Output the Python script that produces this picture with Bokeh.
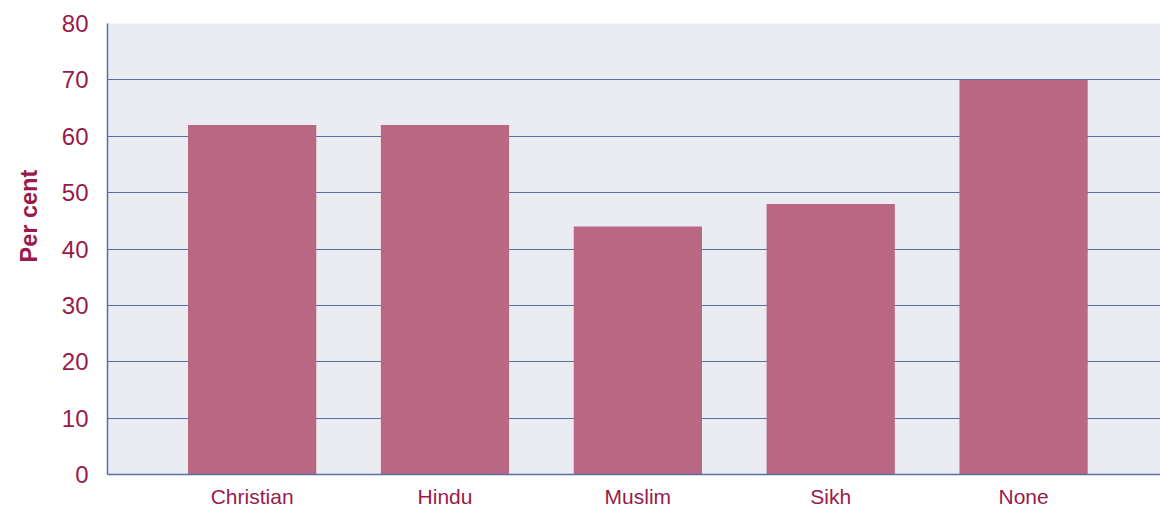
from bokeh.plotting import figure
from bokeh.models import Range1d, FixedTicker, Title
from bokeh.embed import file_html
from bokeh.resources import INLINE

categories = ["Christian", "Hindu", "Muslim", "Sikh", "None"]
values = [62, 62, 44, 48, 70]
y_ticks = [0, 10, 20, 30, 40, 50, 60, 70, 80]

xs = list(range(1, len(categories) + 1))

TEXT = "#9A1A4B"
GRID = "#5A6EA6"
FONT = "Liberation Sans"

p = figure(frame_width=1053, frame_height=451, output_backend="svg", toolbar_location=None,
           x_range=Range1d(0.25, 5.71), y_range=Range1d(0, 80),
           min_border_left=107, min_border_right=0, min_border_top=23, min_border_bottom=0)
p.background_fill_color = "#EBECF2"
p.border_fill_color = "white"
p.outline_line_color = None

p.vbar(x=xs, top=values, width=0.665, bottom=0, fill_color="#B96783", line_color=None)

p.xgrid.grid_line_color = None
p.ygrid.ticker = FixedTicker(ticks=y_ticks)
p.ygrid.grid_line_color = GRID
p.ygrid.grid_line_width = 1.2

p.yaxis.ticker = FixedTicker(ticks=y_ticks)
p.xaxis.ticker = FixedTicker(ticks=xs)
p.xaxis.major_label_overrides = {i: c for i, c in zip(xs, categories)}

for ax in (p.xaxis[0], p.yaxis[0]):
    ax.axis_line_color = GRID
    ax.axis_line_width = 1.5
    ax.major_tick_line_color = None
    ax.minor_tick_line_color = None
    ax.major_label_text_color = TEXT
    ax.major_label_text_font = FONT

p.yaxis.major_label_text_font_size = "24px"
p.yaxis.major_label_standoff = 13
p.xaxis.major_label_text_font_size = "21px"
p.xaxis.major_label_standoff = 4

t = Title(text="Per cent", align="left", vertical_align="top", text_color=TEXT,
          text_font=FONT, text_font_size="23.5px", text_font_style="bold",
          offset=212, standoff=30)
p.add_layout(t, "left")

open("out.html", "w").write(file_html(p, INLINE))
